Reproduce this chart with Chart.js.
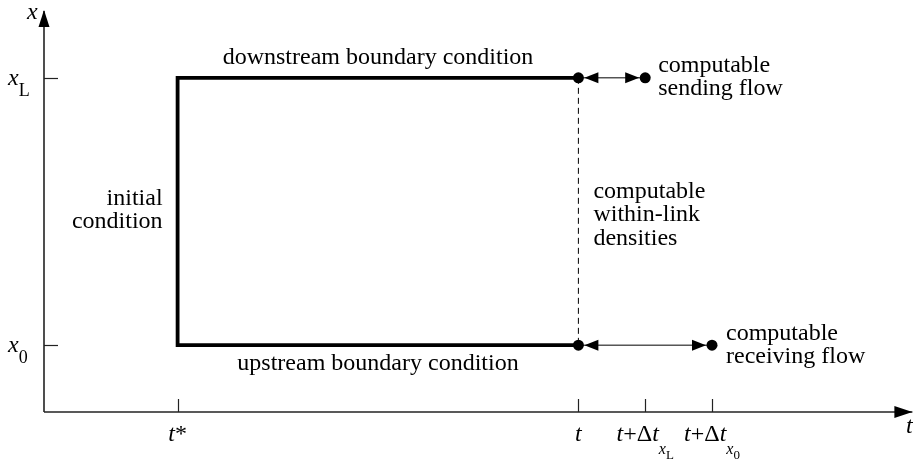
<!DOCTYPE html>
<html>
<head>
<meta charset="utf-8">
<script src="https://cdn.jsdelivr.net/npm/chart.js"></script>
<style>
  html, body { margin: 0; padding: 0; background: #fff; }
  #wrap { width: 913px; height: 459px; }
</style>
</head>
<body>
<div id="wrap"><canvas id="chart" width="913" height="459"></canvas></div>
<script>
// plot ranges (time t horizontally, space x vertically)
const timeRange = [0, 13];
const spaceRange = [0, 6];
const timeTicks = [2, 8, 9, 10];     // t*, t, t+Δt_xL, t+Δt_x0
const spaceTicks = [1, 5];           // x0, xL

// region with known values: boundary + initial conditions
const boxT = [8, 2, 2, 8];
const boxX = [5, 5, 1, 1];

// computable flows, from t to t+Δt at each end of the link
const flowFrom = [8, 8];
const flowTo = [9, 10];
const flowAt = [5, 1];

// tick labels as [text, style, level]; i = italic, r = roman
const timeTickLabels = [
    [['t', 'i', 0], ['*', 'r', 0]],
    [['t', 'i', 0]],
    [['t', 'i', 0], ['+Δ', 'r', 0], ['t', 'i', 0], ['x', 'i', 1], ['L', 'r', 2]],
    [['t', 'i', 0], ['+Δ', 'r', 0], ['t', 'i', 0], ['x', 'i', 1], ['0', 'r', 2]]
];
const spaceTickLabels = [
    [['x', 'i', 0], ['0', 'r', 1]],
    [['x', 'i', 0], ['L', 'r', 1]]
];

const SERIF = "'Liberation Serif', 'Times New Roman', serif";
const timeLevels = [{ size: 24, dy: 0 }, { size: 16, dy: 13 }, { size: 13, dy: 18 }];
const spaceLevels = [{ size: 24, dy: 0 }, { size: 18, dy: 11 }];

function fontFor(style, size) {
    return (style === 'i' ? 'italic ' : '') + size + 'px ' + SERIF;
}

// draws a run of mixed italic/roman/subscript text
function drawRich(ctx, segs, x, y, align, levels) {
    let total = 0;
    const widths = segs.map(([txt, st, lv]) => {
        ctx.font = fontFor(st, levels[lv].size);
        const w = ctx.measureText(txt).width;
        total += w;
        return w;
    });
    let cx = align === 'center' ? x - total / 2 : (align === 'right' ? x - total : x);
    segs.forEach(([txt, st, lv], i) => {
        ctx.font = fontFor(st, levels[lv].size);
        ctx.textAlign = 'left';
        ctx.fillText(txt, cx, y + levels[lv].dy);
        cx += widths[i];
    });
}

function drawLines(ctx, lines, x, y, align, step) {
    ctx.font = '24px ' + SERIF;
    ctx.textAlign = align;
    lines.forEach((l, i) => ctx.fillText(l, x, y + i * step));
}

function arrowHead(ctx, tipX, tipY, dx, dy, len, half) {
    // dx,dy = unit direction the arrow points to
    const bx = tipX - dx * len, by = tipY - dy * len;
    ctx.beginPath();
    ctx.moveTo(tipX, tipY);
    ctx.lineTo(bx - dy * half, by + dx * half);
    ctx.lineTo(bx + dy * half, by - dx * half);
    ctx.closePath();
    ctx.fill();
}

const annotations = {
    id: 'annotations',
    afterDatasetsDraw(chart) {
        const ctx = chart.ctx;
        const xs = chart.scales.x, ys = chart.scales.y;
        const ox = xs.getPixelForValue(timeRange[0]);
        const oy = ys.getPixelForValue(spaceRange[0]);
        ctx.save();
        ctx.fillStyle = '#000';
        ctx.strokeStyle = '#222';
        ctx.textBaseline = 'alphabetic';

        // axis arrow heads
        arrowHead(ctx, xs.getPixelForValue(timeRange[1]), oy, 1, 0, 18, 6);
        arrowHead(ctx, ox, ys.getPixelForValue(spaceRange[1]) - 1, 0, -1, 17, 5.5);

        // ticks
        ctx.lineWidth = 1.2;
        timeTicks.forEach(v => {
            const px = Math.round(xs.getPixelForValue(v)) + 0.5;
            ctx.beginPath(); ctx.moveTo(px, oy); ctx.lineTo(px, oy - 13); ctx.stroke();
        });
        spaceTicks.forEach(v => {
            const py = Math.round(ys.getPixelForValue(v)) + 0.5;
            ctx.beginPath(); ctx.moveTo(ox, py); ctx.lineTo(ox + 14, py); ctx.stroke();
        });

        // tick labels
        timeTicks.forEach((v, i) => {
            drawRich(ctx, timeTickLabels[i], xs.getPixelForValue(v), oy + 29, 'center', timeLevels);
        });
        spaceTicks.forEach((v, i) => {
            drawRich(ctx, spaceTickLabels[i], 8, ys.getPixelForValue(v) + 7, 'left', spaceLevels);
        });

        // axis titles
        ctx.font = 'italic 24px ' + SERIF;
        ctx.textAlign = 'left';
        ctx.fillText('x', 27, 19);
        ctx.fillText('t', 906, 433);

        // flow arrow heads (pointing outward from t)
        flowFrom.forEach((t0, i) => {
            const py = ys.getPixelForValue(flowAt[i]);
            const p0 = xs.getPixelForValue(t0);
            const p1 = xs.getPixelForValue(flowTo[i]);
            arrowHead(ctx, p0 + 6, py, -1, 0, 14, 5.5);
            arrowHead(ctx, p1 - 6, py, 1, 0, 14, 5.5);
        });

        // region labels
        const left = xs.getPixelForValue(boxT[1]);
        const right = xs.getPixelForValue(boxT[0]);
        const top = ys.getPixelForValue(boxX[0]);
        const bottom = ys.getPixelForValue(boxX[2]);
        const mid = (top + bottom) / 2;
        ctx.fillStyle = '#000';
        drawLines(ctx, ['downstream boundary condition'], (left + right) / 2, top - 14, 'center', 23);
        drawLines(ctx, ['upstream boundary condition'], (left + right) / 2, bottom + 25, 'center', 23);
        drawLines(ctx, ['initial', 'condition'], left - 15, mid - 7, 'right', 23);
        drawLines(ctx, ['computable', 'within-link', 'densities'], right + 15, mid - 14, 'left', 23.5);
        drawLines(ctx, ['computable', 'sending flow'], xs.getPixelForValue(flowTo[0]) + 13, ys.getPixelForValue(flowAt[0]) - 6, 'left', 23);
        drawLines(ctx, ['computable', 'receiving flow'], xs.getPixelForValue(flowTo[1]) + 14, ys.getPixelForValue(flowAt[1]) - 5, 'left', 23);
        ctx.restore();
    }
};

const toPts = (ts, xs) => ts.map((t, i) => ({ x: t, y: xs[i] }));
const line = (data, width, extra) => Object.assign({
    data, showLine: true, borderColor: '#000', borderWidth: width,
    pointRadius: 0, fill: false, clip: false, tension: 0
}, extra || {});

const dots = [];
flowFrom.forEach((t0, i) => {
    dots.push({ x: t0, y: flowAt[i] });
    dots.push({ x: flowTo[i], y: flowAt[i] });
});

new Chart(document.getElementById('chart'), {
    type: 'scatter',
    data: {
        datasets: [
            { data: dots, pointRadius: 5.5, pointBackgroundColor: '#000', pointBorderWidth: 0, clip: false },
            line(toPts(boxT, boxX), 3.8, { borderJoinStyle: 'miter', borderCapStyle: 'butt' }),
            line(toPts([boxT[0], boxT[3]], [boxX[0], boxX[3]]), 1, { borderDash: [6, 4] }),
            line(toPts([flowFrom[0], flowTo[0]], [flowAt[0], flowAt[0]]), 1),
            line(toPts([flowFrom[1], flowTo[1]], [flowAt[1], flowAt[1]]), 1),
            line(toPts(timeRange, [spaceRange[0], spaceRange[0]]), 1.6, { borderColor: '#222' }),
            line(toPts([timeRange[0], timeRange[0]], spaceRange), 1.6, { borderColor: '#222' })
        ]
    },
    options: {
        responsive: false,
        animation: false,
        events: [],
        layout: { autoPadding: false, padding: { left: 44, right: 0.6, top: 11, bottom: 47 } },
        plugins: { legend: { display: false }, tooltip: { enabled: false } },
        scales: {
            x: { type: 'linear', min: timeRange[0], max: timeRange[1], display: false },
            y: { type: 'linear', min: spaceRange[0], max: spaceRange[1], display: false }
        }
    },
    plugins: [annotations]
});
</script>
</body>
</html>
